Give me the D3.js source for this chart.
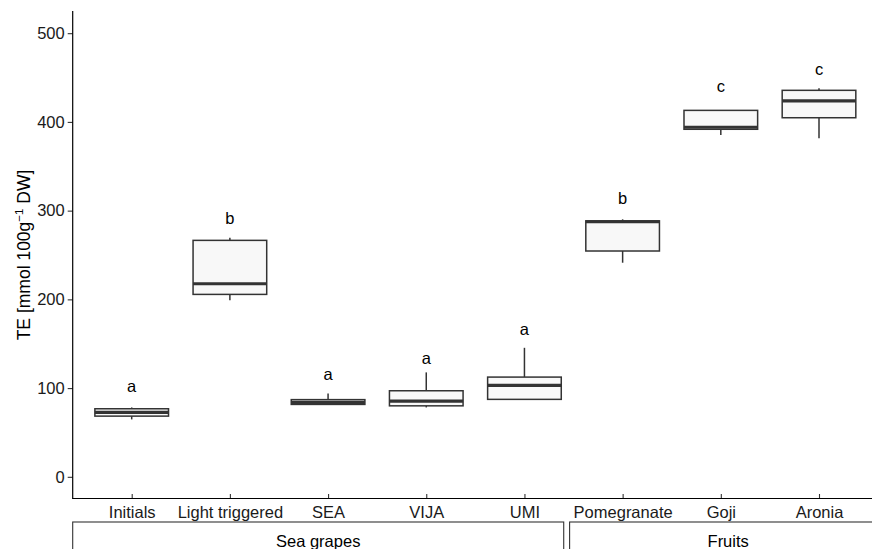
<!DOCTYPE html>
<html>
<head>
<meta charset="utf-8">
<script src="https://cdn.jsdelivr.net/npm/d3@7"></script>
<style>
  body { margin: 0; background: #fff; }
  text { font-family: "Liberation Sans", Arial, Helvetica, sans-serif; }
</style>
</head>
<body>
<div id="chart"></div>
<script>
// values
const categories = ["Initials", "Light triggered", "SEA", "VIJA", "UMI", "Pomegranate", "Goji", "Aronia"];
const whiskerLow  = [64.7, 199, 81, 78.2, 87.3, 241.3, 385.2, 381.5];
const q1          = [68.4, 205.6, 81.6, 80, 87.3, 254.5, 391.7, 404.7];
const medians     = [72.6, 217.6, 84, 85.3, 103, 287.5, 394, 423.6];
const q3          = [76.7, 266.5, 87, 97, 112.4, 288.5, 413, 435.6];
const whiskerHigh = [78.2, 269.5, 94, 117.7, 145.4, 290.2, 413, 437.9];
const letters     = ["a", "b", "a", "a", "a", "b", "c", "c"];
const letterPos   = [100.8, 290, 114.7, 132.7, 165.4, 312.7, 438.6, 457.7];
const yTicks = [0, 100, 200, 300, 400, 500];
const groupNames = ["Sea grapes", "Fruits"];
const groupFirst = ["Initials", "Pomegranate"];
const groupLast  = ["UMI", "Aronia"];

const width = 872, height = 549;
const svg = d3.select("#chart").append("svg")
  .attr("width", width)
  .attr("height", height);

let x = d3.scalePoint().domain(categories).range([131.7, 819]);
let y = d3.scaleLinear().domain([-25, 525]).range([499, 11]);
let step = x.step();
let axisX = 72.7;

let boxes = categories.map(function (c, i) {
  return { cat: c, lo: whiskerLow[i], q1: q1[i], med: medians[i], q3: q3[i], hi: whiskerHigh[i], letter: letters[i], lp: letterPos[i] };
});

// axes
let yAxis = d3.axisLeft(y).tickValues(yTicks).tickSize(5).tickPadding(3);
let gy = svg.append("g").attr("transform", "translate(" + axisX + ",0)").call(yAxis);
gy.select(".domain").remove();
gy.selectAll(".tick line").attr("stroke", "#333").attr("stroke-width", 1.1);
gy.selectAll(".tick text").attr("font-size", "16.5px").attr("fill", "#1a1a1a");
svg.append("line")
  .attr("x1", axisX).attr("x2", axisX)
  .attr("y1", 11).attr("y2", 499)
  .attr("stroke", "#000").attr("stroke-width", 1.2);

let xAxis = d3.axisBottom(x).tickSize(5).tickPadding(4);
let gx = svg.append("g").attr("transform", "translate(0,499)").call(xAxis);
gx.select(".domain").remove();
gx.selectAll(".tick line").attr("stroke", "#333").attr("stroke-width", 1.1).attr("transform", "translate(0,-5)").attr("y2", 4);
gx.selectAll(".tick text").attr("font-size", "16.5px").attr("fill", "#1a1a1a").attr("dy", "0.6em");
svg.append("line")
  .attr("x1", axisX).attr("x2", width)
  .attr("y1", 498.5).attr("y2", 498.5)
  .attr("stroke", "#000").attr("stroke-width", 1.2);

// axis title
let title = svg.append("text")
  .attr("transform", "translate(30,255) rotate(-90)")
  .attr("text-anchor", "middle")
  .attr("font-size", "17.5px")
  .attr("fill", "#000");
title.append("tspan").text("TE [mmol 100g");
title.append("tspan").attr("font-size", "11.5px").attr("dy", "-7").text("\u22121");
title.append("tspan").attr("dy", "7").text(" DW]");

// boxplots
let bw = step * 0.75;
let g = svg.selectAll(".box").data(boxes).enter().append("g").attr("class", "box");

g.append("line")
  .attr("x1", d => x(d.cat)).attr("x2", d => x(d.cat))
  .attr("y1", d => y(d.hi)).attr("y2", d => y(d.q3))
  .attr("stroke", "#333").attr("stroke-width", 1.5);
g.append("line")
  .attr("x1", d => x(d.cat)).attr("x2", d => x(d.cat))
  .attr("y1", d => y(d.q1)).attr("y2", d => y(d.lo))
  .attr("stroke", "#333").attr("stroke-width", 1.5);
g.append("rect")
  .attr("x", d => x(d.cat) - bw / 2)
  .attr("y", d => y(d.q3))
  .attr("width", bw)
  .attr("height", d => y(d.q1) - y(d.q3))
  .attr("fill", "#f8f8f8")
  .attr("stroke", "#333").attr("stroke-width", 1.5);
g.append("line")
  .attr("x1", d => x(d.cat) - bw / 2).attr("x2", d => x(d.cat) + bw / 2)
  .attr("y1", d => y(d.med)).attr("y2", d => y(d.med))
  .attr("stroke", "#333").attr("stroke-width", 3.2);
g.append("text")
  .attr("x", d => x(d.cat))
  .attr("y", d => y(d.lp))
  .attr("dy", "0.27em")
  .attr("text-anchor", "middle")
  .attr("font-size", "16.5px")
  .attr("fill", "#000")
  .text(d => d.letter);

// group brackets under the axis
groupNames.forEach(function (name, i) {
  let left = i === 0 ? axisX : x(groupFirst[i]) - step * 0.54;
  let right = i === 0 ? x(groupLast[i]) + step * 0.4 : x(groupLast[i]) + step * 0.69;
  svg.append("rect")
    .attr("x", left).attr("y", 522)
    .attr("width", right - left).attr("height", 60)
    .attr("fill", "none")
    .attr("stroke", "#333").attr("stroke-width", 1.1);
  svg.append("text")
    .attr("x", (left + right) / 2)
    .attr("y", 547)
    .attr("text-anchor", "middle")
    .attr("font-size", "16.5px")
    .attr("fill", "#000")
    .text(name);
});
</script>
</body>
</html>
